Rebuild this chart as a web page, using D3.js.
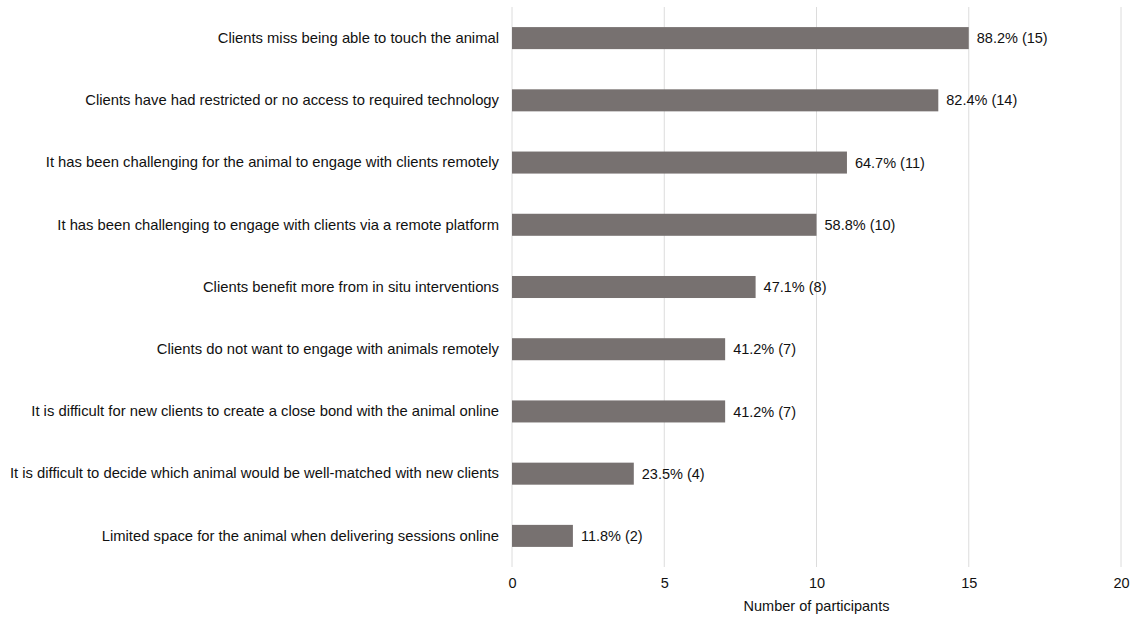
<!DOCTYPE html>
<html>
<head>
<meta charset="utf-8">
<script src="https://cdn.jsdelivr.net/npm/d3@7"></script>
<style>
  body { margin: 0; background: #fff; }
  svg { font-family: "Liberation Sans", Arial, Helvetica, sans-serif; }
</style>
</head>
<body>
<script>
// Data
var reasons = [
  "Clients miss being able to touch the animal",
  "Clients have had restricted or no access to required technology",
  "It has been challenging for the animal to engage with clients remotely",
  "It has been challenging to engage with clients via a remote platform",
  "Clients benefit more from in situ interventions",
  "Clients do not want to engage with animals remotely",
  "It is difficult for new clients to create a close bond with the animal online",
  "It is difficult to decide which animal would be well-matched with new clients",
  "Limited space for the animal when delivering sessions online"
];
var counts = [15, 14, 11, 10, 8, 7, 7, 4, 2];
var percents = ["88.2%", "82.4%", "64.7%", "58.8%", "47.1%", "41.2%", "41.2%", "23.5%", "11.8%"];
var xTicks = [0, 5, 10, 15, 20];

var data = reasons.map(function(r, i) {
  return { reason: r, count: counts[i], pct: percents[i] };
});

var width = 1137, height = 617;
var margin = { top: 7, right: 16, bottom: 50, left: 512 };

var svg = d3.select("body").append("svg")
  .attr("width", width)
  .attr("height", height);

var x = d3.scaleLinear()
  .domain([0, 20])
  .range([margin.left, width - margin.right]);

var y = d3.scaleBand()
  .domain(reasons)
  .range([margin.top, height - margin.bottom])
  .paddingInner(0.646)
  .paddingOuter(0.323);

// gridlines
svg.append("g")
  .selectAll("line")
  .data(xTicks)
  .enter()
  .append("line")
  .attr("x1", d => x(d))
  .attr("x2", d => x(d))
  .attr("y1", margin.top)
  .attr("y2", height - margin.bottom)
  .attr("stroke", "#dcdcdc")
  .attr("stroke-width", 1);

// bars
svg.append("g")
  .selectAll("rect")
  .data(data)
  .enter()
  .append("rect")
  .attr("x", x(0))
  .attr("y", d => y(d.reason))
  .attr("width", d => x(d.count) - x(0))
  .attr("height", y.bandwidth())
  .attr("fill", "#777170");

// value labels
svg.append("g")
  .selectAll("text")
  .data(data)
  .enter()
  .append("text")
  .attr("x", d => x(d.count) + 8)
  .attr("y", d => y(d.reason) + y.bandwidth() / 2)
  .attr("dy", "0.35em")
  .style("font-size", "14.5px")
  .attr("fill", "#111")
  .text(d => d.pct + " (" + d.count + ")");

// category labels
var yAxis = d3.axisLeft(y).tickSize(0).tickPadding(13);
svg.append("g")
  .attr("transform", "translate(" + margin.left + ",0)")
  .call(yAxis)
  .call(g => g.select(".domain").remove())
  .selectAll("text")
  .style("font-size", "14.8px")
  .style("font-family", "'Liberation Sans', Arial, sans-serif")
  .attr("fill", "#111");

// x axis
var xAxis = d3.axisBottom(x).tickValues(xTicks).tickSize(0).tickPadding(11);
svg.append("g")
  .attr("transform", "translate(0," + (height - margin.bottom) + ")")
  .call(xAxis)
  .call(g => g.select(".domain").remove())
  .selectAll("text")
  .style("font-size", "14.5px")
  .style("font-family", "'Liberation Sans', Arial, sans-serif")
  .attr("fill", "#111");

svg.append("text")
  .attr("x", x(10))
  .attr("y", 611)
  .attr("text-anchor", "middle")
  .style("font-size", "14.5px")
  .attr("fill", "#111")
  .text("Number of participants");
</script>
</body>
</html>
